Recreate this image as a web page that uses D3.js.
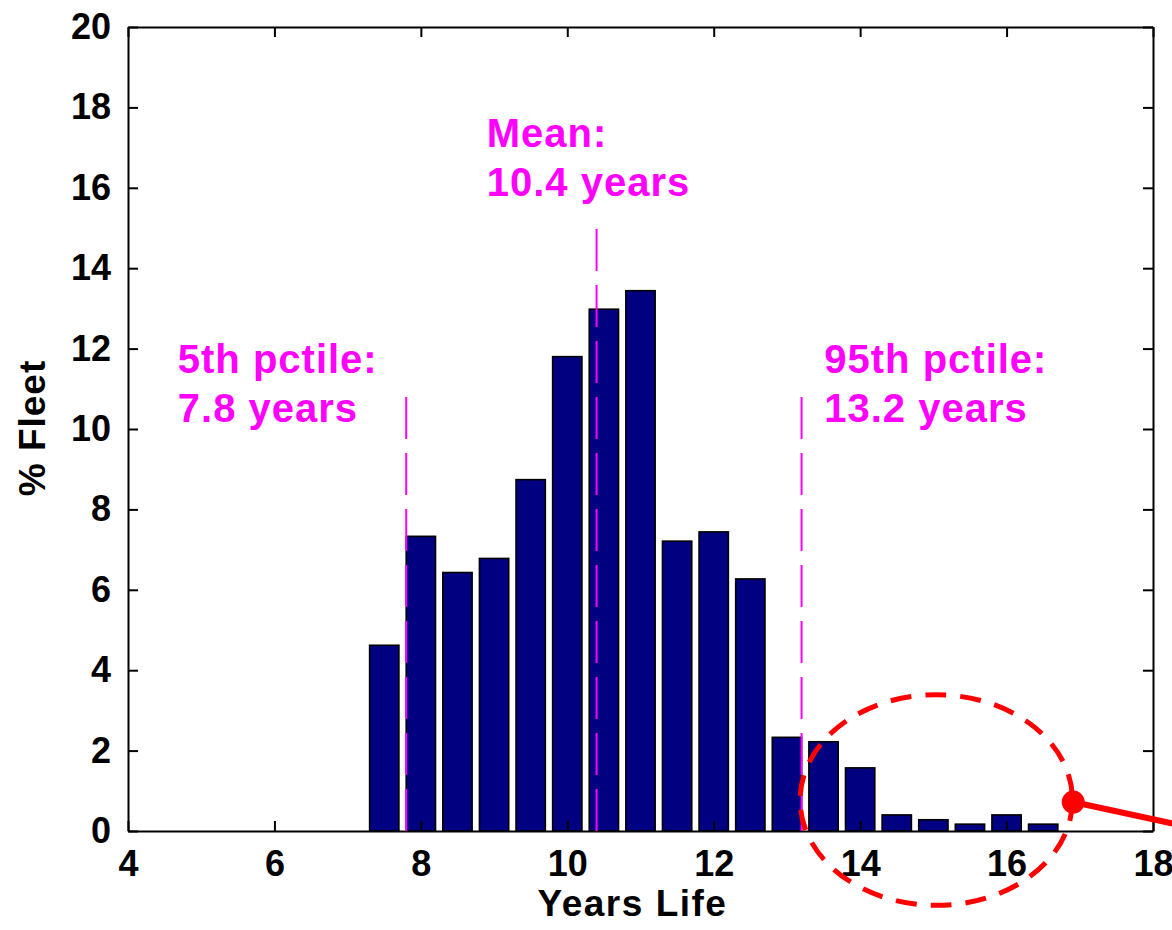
<!DOCTYPE html>
<html>
<head lang="en">
<meta charset="UTF-8">
<title>Years Life</title>
<style>
  body { margin: 0; background: #fff; }
  text { font-family: "Liberation Sans", Arial, Helvetica, sans-serif; font-weight: bold; }
</style>
</head>
<body>
<svg width="1172" height="930"></svg>
<script src="https://cdn.jsdelivr.net/npm/d3@7"></script>
<script>
// histogram bins (years) and % of fleet
var years = [7.5, 8, 8.5, 9, 9.5, 10, 10.5, 11, 11.5, 12, 12.5, 13, 13.5, 14, 14.5, 15, 15.5, 16, 16.5];
var fleetPct = [4.62, 7.33, 6.43, 6.78, 8.74, 11.8, 12.98, 13.44, 7.21, 7.44, 6.27, 2.33, 2.22, 1.57, 0.4, 0.28, 0.17, 0.4, 0.17];

var xTicks = [4, 6, 8, 10, 12, 14, 16, 18];
var yTicks = [0, 2, 4, 6, 8, 10, 12, 14, 16, 18, 20];

// marker lines: position, top of line, and label lines
var markerX = [7.8, 10.4, 13.2];
var markerTop = [11, 15, 11];
var markerLabels = [["5th pctile:", "7.8 years"], ["Mean:", "10.4 years"], ["95th pctile:", "13.2 years"]];
// where each label sits (data units: left x, baseline value of first line)
var labelX = [4.68, 8.9, 13.51];
var labelY = [11.4, 17.02, 11.4];

// red annotation: ellipse around the tail and a pointer
var ellipseC = [15.04, 0.77];
var ellipseR = [1.86, 2.62];
var pointer = [[16.91, 0.72], [19.5, -0.3]];

var svg = d3.select("svg"),
    MARGINS = {top: 27, right: 19, bottom: 99, left: 128},
    WIDTH = +svg.attr("width"),
    HEIGHT = +svg.attr("height");

var xScale = d3.scaleLinear().domain([4, 18]).range([MARGINS.left, WIDTH - MARGINS.right]);
var yScale = d3.scaleLinear().domain([0, 20]).range([HEIGHT - MARGINS.bottom, MARGINS.top]);

var barW = xScale(0.4) - xScale(0);

// bars
svg.append("g").selectAll("rect")
    .data(years)
    .enter().append("rect")
    .attr("x", function(d) { return xScale(d) - barW / 2; })
    .attr("y", function(d, i) { return yScale(fleetPct[i]); })
    .attr("width", barW)
    .attr("height", function(d, i) { return yScale(0) - yScale(fleetPct[i]); })
    .attr("fill", "#000080")
    .attr("stroke", "#000")
    .attr("stroke-width", 1.6);

// axes (box with inward ticks)
var fontSize = 36;
var xAxis = d3.axisBottom(xScale).tickValues(xTicks).tickSizeInner(-10).tickSizeOuter(0).tickPadding(19);
var yAxis = d3.axisLeft(yScale).tickValues(yTicks).tickSizeInner(-10).tickSizeOuter(0).tickPadding(17);

var gx = svg.append("g")
    .attr("transform", "translate(0," + yScale(0) + ")")
    .call(xAxis);
var gy = svg.append("g")
    .attr("transform", "translate(" + xScale(4) + ",0)")
    .call(yAxis);
svg.append("g")
    .attr("transform", "translate(0," + yScale(20) + ")")
    .call(d3.axisTop(xScale).tickValues(xTicks).tickSizeInner(-10).tickSizeOuter(0).tickFormat(""));
svg.append("g")
    .attr("transform", "translate(" + xScale(18) + ",0)")
    .call(d3.axisRight(yScale).tickValues(yTicks).tickSizeInner(-10).tickSizeOuter(0).tickFormat(""));

svg.selectAll(".domain").attr("stroke", "#000").attr("stroke-width", 2);
svg.selectAll(".tick line").attr("stroke", "#000").attr("stroke-width", 2);
svg.selectAll(".tick text")
    .attr("fill", "#000")
    .style("font-size", fontSize + "px")
    .style("font-family", "'Liberation Sans', Arial, sans-serif")
    .style("font-weight", "bold");

// axis titles
svg.append("text")
    .attr("x", (xScale(4) + xScale(18)) / 2 - 8)
    .attr("y", 916)
    .attr("text-anchor", "middle")
    .style("font-size", "37px")
    .style("letter-spacing", "1.5px")
    .text("Years Life");

svg.append("text")
    .attr("transform", "translate(45," + 428 + ") rotate(-90)")
    .attr("text-anchor", "middle")
    .style("font-size", "37px")
    .style("letter-spacing", "1px")
    .text("% Fleet");

// dashed marker lines, drawn from bottom upward
svg.append("g").selectAll("line")
    .data(markerX)
    .enter().append("line")
    .attr("x1", function(d) { return xScale(d); })
    .attr("x2", function(d) { return xScale(d); })
    .attr("y1", yScale(0))
    .attr("y2", function(d, i) { return yScale(markerTop[i]); })
    .attr("stroke", "#ff00ff")
    .attr("stroke-width", 2)
    .attr("stroke-dasharray", "42,14");

// marker labels
markerLabels.forEach(function(lines, i) {
    var t = svg.append("text")
        .attr("x", xScale(labelX[i]))
        .attr("y", yScale(labelY[i]))
        .attr("fill", "#ff00ff")
        .style("font-size", "40px")
        .style("letter-spacing", "1px");
    lines.forEach(function(s, j) {
        t.append("tspan")
            .attr("x", xScale(labelX[i]))
            .attr("dy", j === 0 ? 0 : 49)
            .text(s);
    });
});

// red annotation
svg.append("ellipse")
    .attr("cx", xScale(ellipseC[0]))
    .attr("cy", yScale(ellipseC[1]))
    .attr("rx", xScale(ellipseR[0]) - xScale(0))
    .attr("ry", yScale(0) - yScale(ellipseR[1]))
    .attr("fill", "none")
    .attr("stroke", "#ff0000")
    .attr("stroke-width", 5)
    .attr("stroke-dasharray", "21,14");

var lineGen = d3.line()
    .x(function(d) { return xScale(d[0]); })
    .y(function(d) { return yScale(d[1]); });

svg.append("path")
    .attr("d", lineGen(pointer))
    .attr("stroke", "#ff0000")
    .attr("stroke-width", 6)
    .attr("fill", "none");

svg.append("circle")
    .attr("cx", xScale(pointer[0][0]))
    .attr("cy", yScale(pointer[0][1]))
    .attr("r", 11.5)
    .attr("fill", "#ff0000");
</script>
</body>
</html>
